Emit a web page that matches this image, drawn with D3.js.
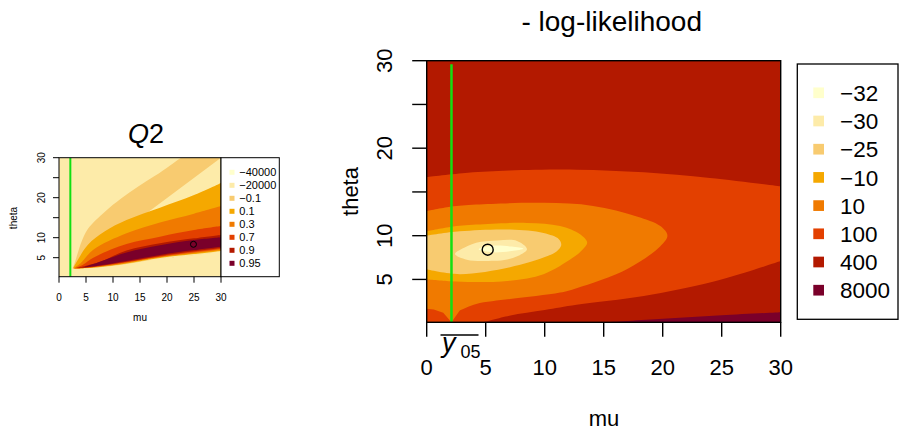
<!DOCTYPE html>
<html><head><meta charset="utf-8">
<script src="https://cdn.jsdelivr.net/npm/d3@7"></script>
<style>body{margin:0;background:#fff}svg{display:block}text{font-family:"Liberation Sans",Arial,sans-serif}</style>
</head><body>
<svg id="chart" width="902" height="432"></svg>
<script>
// ---------- data ----------
const muTicks = [0, 5, 10, 15, 20, 25, 30];
const thetaTicks = [5, 10, 15, 20, 25, 30];
const thetaLabels = [5, 10, 20, 30];
const levelColors = ["#FFFFCC", "#FDEBA9", "#F8CB70", "#F5A800", "#F07A00", "#E34000", "#B31900", "#7A002A"];
const llLevels = ["\u221232", "\u221230", "\u221225", "\u221210", "10", "100", "400", "8000"];
const q2Levels = ["\u221240000", "\u221220000", "\u22120.1", "0.1", "0.3", "0.7", "0.9", "0.95"];
const ybar05 = 2.1;
const mleLL = [5.17, 8.4];
const mleQ2 = [24.9, 8.35];

// - log-likelihood contour regions (mu, theta)
const ll100 = [[0,16.7],[3.5,17.2],[7,17.45],[12.7,17.55],[18.4,17.25],[24,16.6],[30,15.65]];
const ll100low = [[30,7.1],[27,5.8],[24,4.65],[18.4,3.1],[12.7,2.1],[10,1.5],[7,0.85],[4.8,0.1]];
const ll10 = [[0,12.8],[2,13.3],[4.2,13.56],[9.9,13.75],[14.1,13.4],[17.8,12.2],[19.8,11.1],[20.4,10.0],[19.8,8.8],[17,6.2],[12.7,4.0],[11.3,3.5],[7.06,2.75],[4.2,2.2],[2.8,1.45]];
const ll10notch = [[2.1,0.1],[1.4,1.2],[0.6,1.55],[0,1.65]];
const llM10 = [[0,10.5],[2,11.0],[4.2,11.27],[8.5,11.46],[11.3,11.1],[13,10.15],[13.6,9.2],[13.2,8.4],[12.4,7.5],[9.9,5.6],[7.06,4.85],[4,4.7],[2,4.8],[0,5.0]];
const llM25 = [[0,10.0],[2.8,10.5],[7.06,10.7],[9.9,10.3],[11.2,9.6],[11.4,8.9],[11.0,8.2],[9.9,7.5],[7.06,6.4],[2.8,5.6],[0,6.16]];
const llM30 = [[2.4,7.9],[3.3,8.7],[4.2,9.2],[6,9.45],[7.65,9.4],[8.5,8.44],[7.06,7.35],[5,7.1],[3.4,7.25]];
const llM32 = [[4.4,8.45],[5.6,8.85],[7.2,8.75],[8.2,8.5],[7.2,8.25],[5.6,8.1]];
const ll8000 = [[15.3,0.1],[20,0.5],[25,0.9],[30,1.25]];

// Q2 contour regions: upper and lower boundaries (outer to inner)
const q2Upper = [
  [[2.5,2.3],[2.8,3.3],[3.25,5.2],[4.3,9.4],[5.4,12.3],[8.5,16.5],[11.5,19.8],[14.6,22.75],[17.7,25.4],[20.7,28.2],[22.6,30]],
  [[2.6,2.35],[3.5,4.5],[5.4,8.3],[8.5,11.6],[12.5,14.4],[18.7,17.5],[24.9,20.6],[30,23.7]],
  [[2.7,2.35],[4,3.6],[6.35,7.0],[12.5,11.1],[18.7,13.8],[25,16.0],[30,17.9]],
  [[2.9,2.35],[4.5,3.3],[6.35,5.0],[12.5,8.4],[18.7,10.25],[25,11.9],[30,12.9]],
  [[3.2,2.4],[5,3.0],[8,4.2],[12.5,6.8],[18.7,8.6],[25,9.85],[30,10.7]],
  [[4.5,2.6],[6.35,3.4],[12.5,6.3],[18.7,8.1],[25,9.4],[30,10.1]]
];
const q2Lower = [
  [[30,6.5],[25,5.7],[18.7,4.8],[12.5,3.4],[8,2.65],[5,2.35],[3,2.2]],
  [[30,6.7],[25,5.9],[18.7,4.95],[12.5,3.55],[8,2.75],[5,2.4],[3,2.25]],
  [[30,6.9],[25,6.1],[18.7,5.1],[12.5,3.7],[8,2.85],[5,2.45],[3,2.3]],
  [[30,7.15],[25,6.35],[18.7,5.25],[12.5,3.85],[8,2.95],[5,2.5],[3,2.35]],
  [[30,7.4],[25,6.6],[18.7,5.45],[12.5,4.0],[8,3.05],[5,2.55],[3.2,2.4]],
  [[30,7.75],[25,6.9],[18.7,5.7],[12.5,4.2],[8,3.2],[6,2.8],[4.5,2.6]]
];
const q2Colors = ["#F8CB70", "#F5A800", "#F07A00", "#E34000", "#B31900", "#7A002A"];

// ---------- drawing ----------
const svg = d3.select("#chart");
const green = "#12E012";

function pathFrom(x, y, parts, close) {
  let d = "";
  parts.forEach((p, i) => {
    const ln = d3.line().x(v => x(v[0])).y(v => y(v[1]))
      .curve(p.smooth ? d3.curveCatmullRom.alpha(0.5) : d3.curveLinear);
    let s = ln(p.pts);
    if (i > 0) s = "L" + s.slice(1);
    d += s;
  });
  return d + (close ? "Z" : "");
}
function closedPath(x, y, pts) {
  return d3.line().x(v => x(v[0])).y(v => y(v[1])).curve(d3.curveCatmullRomClosed.alpha(0.5))(pts);
}

function axes(g, x, y, o) {
  const x0 = x.range()[0], y0 = y.range()[0];
  muTicks.forEach(t => {
    g.append("line").attr("x1", x(t)).attr("x2", x(t)).attr("y1", y0).attr("y2", y0 + o.tick)
      .attr("stroke", "#000").attr("stroke-width", o.sw);
    g.append("text").attr("x", x(t)).attr("y", o.xLabY).attr("text-anchor", "middle")
      .attr("font-size", o.fs).text(t);
  });
  thetaTicks.forEach(t => {
    g.append("line").attr("x1", x0 - o.tick).attr("x2", x0).attr("y1", y(t)).attr("y2", y(t))
      .attr("stroke", "#000").attr("stroke-width", o.sw);
  });
  thetaLabels.forEach(t => {
    g.append("text").attr("transform", `translate(${o.yLabX},${y(t)}) rotate(-90)`)
      .attr("text-anchor", "middle").attr("font-size", o.fs).text(t);
  });
}

function legend(g, box, levels, colors, o) {
  g.append("rect").attr("x", box[0]).attr("y", box[1]).attr("width", box[2]).attr("height", box[3])
    .attr("fill", "#fff").attr("stroke", "#000").attr("stroke-width", o.sw);
  levels.forEach((lv, i) => {
    const cy = o.y0 + i * o.dy;
    g.append("rect").attr("x", o.sx).attr("y", cy - o.ss / 2).attr("width", o.ss).attr("height", o.ss)
      .attr("fill", colors[i]);
    g.append("text").attr("x", o.tx).attr("y", cy + o.fs * 0.36).attr("font-size", o.fs).text(lv);
  });
}

// ===== Left: Q2 =====
{
  const x = d3.scaleLinear([0, 30], [59, 221]);
  const y = d3.scaleLinear([0.25, 30], [276.7, 157.7]);
  const g = svg.append("g");
  svg.append("clipPath").attr("id", "clipS").append("rect")
    .attr("x", 59).attr("y", 157.7).attr("width", 162).attr("height", 119);
  const p = g.append("g").attr("clip-path", "url(#clipS)");
  p.append("rect").attr("x", 59).attr("y", 157.7).attr("width", 162).attr("height", 119).attr("fill", levelColors[1]);
  q2Upper.forEach((up, i) => {
    const parts = [{pts: up, smooth: true}];
    if (up[up.length - 1][1] >= 30) parts.push({pts: [[30.5, 30.5]], smooth: false});
    parts.push({pts: q2Lower[i], smooth: true});
    p.append("path").attr("d", pathFrom(x, y, parts, true)).attr("fill", q2Colors[i]);
  });
  p.append("line").attr("x1", x(ybar05)).attr("x2", x(ybar05)).attr("y1", 157.7).attr("y2", 276.7)
    .attr("stroke", green).attr("stroke-width", 2);
  p.append("circle").attr("cx", x(mleQ2[0])).attr("cy", y(mleQ2[1])).attr("r", 3)
    .attr("fill", "none").attr("stroke", "#000").attr("stroke-width", 1);
  g.append("rect").attr("x", 59).attr("y", 157.7).attr("width", 162).attr("height", 119)
    .attr("fill", "none").attr("stroke", "#000").attr("stroke-width", 1);
  axes(g, x, y, {tick: 6, sw: 1, fs: 10, xLabY: 301, yLabX: 45});
  g.append("text").attr("x", 140).attr("y", 321).attr("text-anchor", "middle").attr("font-size", 10).text("mu");
  g.append("text").attr("transform", "translate(16.5,218) rotate(-90)").attr("text-anchor", "middle")
    .attr("font-size", 10).text("theta");
  const t = g.append("text").attr("x", 146).attr("y", 143).attr("text-anchor", "middle").attr("font-size", 27);
  t.append("tspan").attr("font-style", "italic").text("Q");
  t.append("tspan").text("2");
  legend(g, [221, 157.7, 58.3, 119], q2Levels, levelColors,
    {sw: 1, y0: 172.3, dy: 13, sx: 229.5, ss: 5, tx: 239.3, fs: 11});
}

// ===== Right: - log-likelihood =====
{
  const x = d3.scaleLinear([0, 30], [426.7, 780.7]);
  const y = d3.scaleLinear([0.1, 30], [322.3, 60.7]);
  const X0 = 426.7, Y0 = 60.7, W = 354, H = 261.6;
  const g = svg.append("g");
  svg.append("clipPath").attr("id", "clipM").append("rect")
    .attr("x", X0).attr("y", Y0).attr("width", W).attr("height", H);
  const p = g.append("g").attr("clip-path", "url(#clipM)");
  p.append("rect").attr("x", X0).attr("y", Y0).attr("width", W).attr("height", H).attr("fill", levelColors[6]);
  p.append("path").attr("fill", levelColors[5]).attr("d", pathFrom(x, y, [
    {pts: ll100, smooth: true}, {pts: ll100low, smooth: true}, {pts: [[0, 0.1]], smooth: false}], true));
  p.append("path").attr("fill", levelColors[7]).attr("d", pathFrom(x, y, [
    {pts: ll8000, smooth: true}, {pts: [[30, 0.1]], smooth: false}], true));
  p.append("path").attr("fill", levelColors[4]).attr("d", pathFrom(x, y, [
    {pts: ll10, smooth: true}, {pts: ll10notch, smooth: false}], true));
  p.append("path").attr("fill", levelColors[3]).attr("d", pathFrom(x, y, [{pts: llM10, smooth: true}], true));
  p.append("path").attr("fill", levelColors[2]).attr("d", pathFrom(x, y, [{pts: llM25, smooth: true}], true));
  p.append("path").attr("fill", levelColors[1]).attr("d", closedPath(x, y, llM30));
  p.append("path").attr("fill", levelColors[0]).attr("d", closedPath(x, y, llM32));
  p.append("line").attr("x1", x(ybar05)).attr("x2", x(ybar05)).attr("y1", y(29.6)).attr("y2", y(0.1))
    .attr("stroke", green).attr("stroke-width", 2.5);
  p.append("circle").attr("cx", x(mleLL[0])).attr("cy", y(mleLL[1])).attr("r", 5.5)
    .attr("fill", "none").attr("stroke", "#000").attr("stroke-width", 1.4);
  g.append("rect").attr("x", X0).attr("y", Y0).attr("width", W).attr("height", H)
    .attr("fill", "none").attr("stroke", "#000").attr("stroke-width", 1.4);
  axes(g, x, y, {tick: 14.5, sw: 1.4, fs: 22, xLabY: 374.5, yLabX: 391.5});
  g.append("text").attr("x", 604).attr("y", 426).attr("text-anchor", "middle").attr("font-size", 22).text("mu");
  g.append("text").attr("transform", "translate(358,191.5) rotate(-90)").attr("text-anchor", "middle")
    .attr("font-size", 22).text("theta");
  g.append("text").attr("x", 611.7).attr("y", 31).attr("text-anchor", "middle").attr("font-size", 28)
    .text("- log-likelihood");
  // ybar_05 label
  g.append("line").attr("x1", 440.5).attr("x2", 478.5).attr("y1", 335).attr("y2", 335)
    .attr("stroke", "#000").attr("stroke-width", 1.3);
  g.append("text").attr("x", 442).attr("y", 352).attr("font-size", 27).attr("font-style", "italic").text("y");
  g.append("text").attr("x", 460.5).attr("y", 358).attr("font-size", 18).text("05");
  legend(g, [797.3, 64, 100.7, 255.3], llLevels, levelColors,
    {sw: 1.3, y0: 92.8, dy: 28.2, sx: 813.3, ss: 10.7, tx: 840, fs: 22.5});
}
</script>
</body></html>
